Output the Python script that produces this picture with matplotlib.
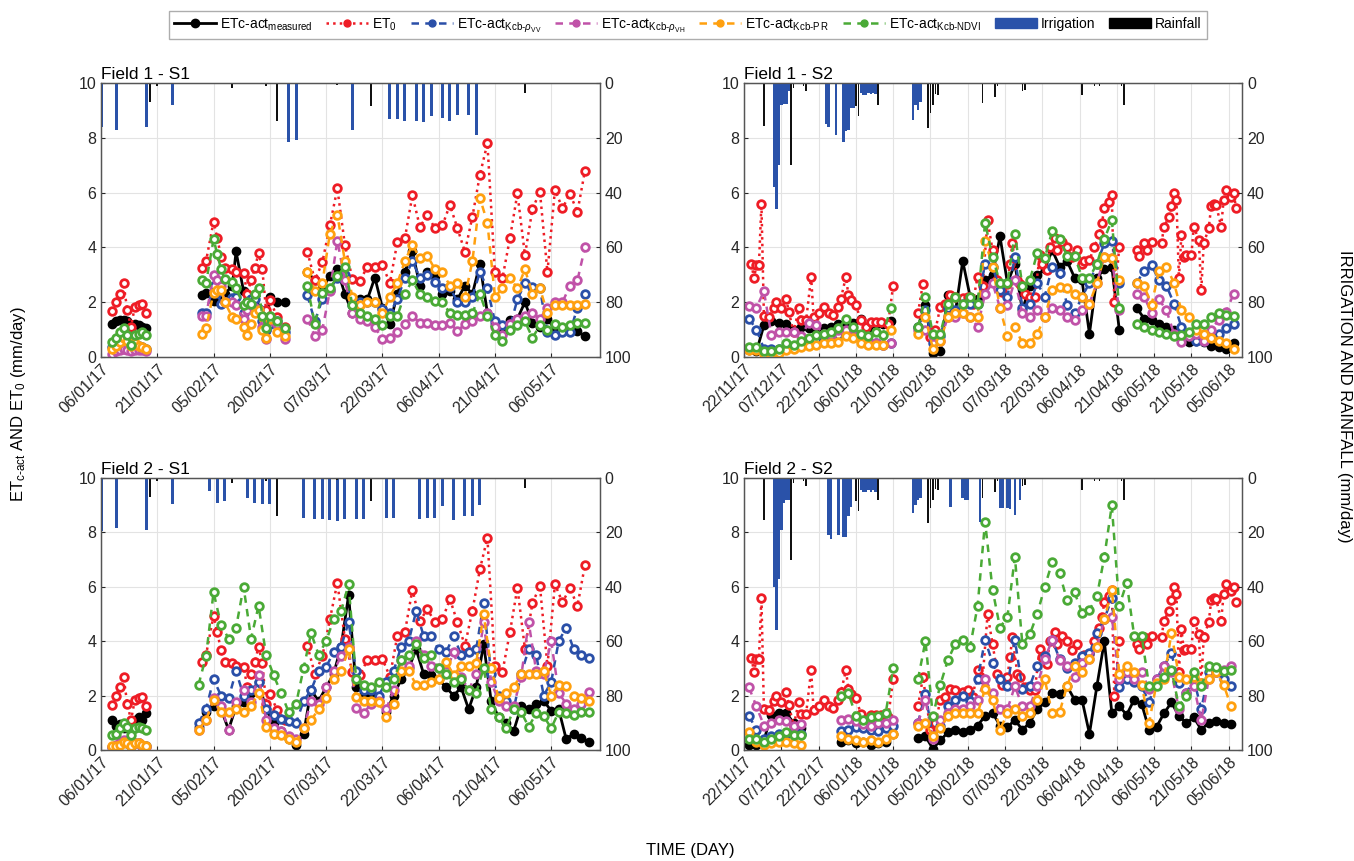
import numpy as np
import matplotlib
matplotlib.use('Agg')
import matplotlib.pyplot as plt
import matplotlib.dates as mdates
from matplotlib.lines import Line2D
from matplotlib.patches import Patch

plt.rcParams['font.family'] = ['Liberation Sans', 'DejaVu Sans']
plt.rcParams['mathtext.fontset'] = 'custom'
plt.rcParams['mathtext.rm'] = 'Liberation Sans'
plt.rcParams['mathtext.it'] = 'Liberation Sans:italic'
plt.rcParams['mathtext.bf'] = 'Liberation Sans:bold'

# ---------------- season 1 (day 0 = 06/01/2017) ----------------
base_s1 = '2017-01-06'
days_f1s1 = [3, 4, 5, 6, 7, 8, 9, 10, 11, 12,
             27, 28, 30, 31, 32, 33, 35, 36, 38, 39, 40, 41, 42, 43, 44, 45, 47, 49] + list(range(55, 130, 2))

et0_s1 = [1.67, 2.0, 2.3, 2.7, 1.7, 1.1, 1.83, 1.9, 1.95, 1.6,
          3.23, 3.5, 4.94, 4.33, 3.66, 3.23, 3.2, 3.1, 3.07, 2.3, 2.8, 3.23, 3.8, 3.2, 1.7, 2.07, 1.46, 1.1,
          3.84, 2.8, 3.45, 4.8, 6.15, 4.1, 2.85, 2.77, 3.3, 3.3, 3.35, 2.7, 4.2, 4.33, 5.9, 4.75, 5.18, 4.7, 4.8,
          5.55, 4.7, 3.84, 5.12, 6.65, 7.8, 3.1, 2.87, 4.33, 5.97, 3.72, 5.4, 6.03, 3.1, 6.1, 5.43, 5.95, 5.3, 6.8]

f1s1_meas = [1.2, 1.3, 1.35, 1.35, 1.3, 1.05, 1.2, 1.15, 1.1, 1.05,
             2.25, 2.35, 2.05, 2.05, 2.1, 2.3, 2.6, 3.85, 2.4, 2.05, 2.1, 1.85, 1.7, 1.5, 1.0, 2.2, 2.0, 2.0,
             3.1, 2.8, 2.5, 2.95, 3.2, 2.3, 1.6, 2.1, 2.1, 2.9, 1.8, 1.2, 2.3, 3.1, 3.85, 2.6, 3.1, 2.95, 2.3,
             2.4, 2.1, 2.6, 2.3, 3.4, 1.6, 1.2, 0.85, 1.35, 1.4, 2.0, 1.25, 1.1, 1.4, 1.0, 1.05, 1.0, 0.95, 0.75]
f1s1_vv = [0.35, 0.45, 0.5, 0.55, 0.5, 0.3, 0.4, 0.4, 0.35, 0.3,
           1.6, 1.6, 2.6, 2.35, 1.95, 2.0, 2.15, 2.2, 1.6, 1.85, 2.1, 2.1, 1.75, 1.3, 1.0, 1.2, 1.3, 0.9,
           2.25, 1.3, 2.1, 2.45, 2.9, 3.0, 1.9, 2.0, 2.0, 2.0, 1.75, 1.6, 2.1, 2.9, 3.5, 2.9, 3.0, 2.75, 2.5,
           2.55, 2.0, 2.0, 2.2, 3.1, 2.5, 1.3, 1.15, 1.1, 2.1, 2.7, 2.55, 2.5, 0.9, 0.8, 0.9, 0.9, 1.8, 2.3]
f1s1_vh = [0.1, 0.2, 0.25, 0.3, 0.25, 0.2, 0.25, 0.25, 0.25, 0.2,
           1.5, 1.5, 3.0, 2.8, 2.6, 2.0, 2.0, 1.9, 1.4, 1.7, 1.9, 1.8, 1.7, 1.1, 0.65, 1.3, 1.2, 0.65,
           1.4, 0.75, 1.0, 2.4, 4.25, 2.8, 1.6, 1.4, 1.3, 1.1, 0.65, 0.7, 0.9, 1.2, 1.5, 1.25, 1.25, 1.15, 1.15,
           1.25, 0.95, 1.2, 1.3, 1.5, 1.6, 1.1, 0.8, 1.2, 1.4, 1.5, 1.6, 1.4, 1.8, 2.0, 2.0, 2.6, 2.8, 4.0]
f1s1_pr = [0.3, 0.4, 0.55, 0.7, 0.6, 0.4, 0.5, 0.4, 0.35, 0.3,
           0.85, 1.05, 2.35, 2.45, 2.45, 2.0, 1.45, 1.4, 1.1, 0.8, 1.2, 1.6, 1.7, 1.0, 0.7, 1.4, 0.9, 0.75,
           3.1, 2.4, 2.7, 4.5, 5.2, 3.5, 2.2, 1.9, 2.0, 2.0, 1.6, 2.2, 2.7, 3.5, 4.1, 3.6, 3.7, 3.2, 3.1,
           2.6, 2.7, 2.2, 3.5, 5.8, 4.9, 2.2, 2.5, 2.9, 2.5, 3.2, 2.3, 2.5, 1.6, 1.9, 1.9, 1.9, 1.9, 1.95]
f1s1_ndvi = [0.55, 0.7, 0.9, 1.05, 0.8, 0.45, 0.8, 0.85, 0.9, 0.8,
             2.8, 2.7, 4.3, 3.75, 3.2, 2.85, 2.75, 2.5, 1.9, 2.0, 1.95, 2.3, 2.5, 1.5, 1.05, 1.5, 1.3, 1.05,
             2.6, 1.2, 2.35, 2.5, 2.95, 3.3, 1.9, 1.6, 1.5, 1.4, 1.15, 1.5, 1.5, 2.3, 2.8, 2.3, 2.2, 2.05, 2.0,
             1.6, 1.55, 1.55, 1.6, 2.3, 1.5, 0.8, 0.6, 1.0, 1.15, 1.3, 0.7, 1.15, 1.0, 1.2, 1.1, 1.15, 1.25, 1.25]

days_f2s1 = list(range(3, 13)) + list(range(26, 131, 2))
f2s1_meas = [1.1, 0.9, 0.95, 0.8, 0.9, 0.65, 1.1, 1.2, 1.1, 1.35,
             0.85, 1.4, 1.6, 1.5, 0.75, 1.6, 1.75, 2.1, 2.5, 1.5, 1.0, 0.7, 0.4, 0.2, 0.6,
             2.2, 1.8, 2.3, 2.8, 3.8, 5.7, 2.3, 2.1, 2.1, 1.8, 1.4, 2.0, 2.6, 3.0, 3.7,
             2.8, 2.75, 2.6, 2.3, 2.0, 2.3, 1.5, 2.3, 3.9, 1.8, 1.2, 1.0, 0.7, 1.6, 1.5,
             1.7, 1.8, 1.45, 1.5, 0.4, 0.6, 0.45, 0.3]
f2s1_vv = [0.1, 0.15, 0.25, 0.3, 0.25, 0.15, 0.25, 0.25, 0.15, 0.15,
           1.0, 1.5, 2.6, 2.0, 1.9, 2.9, 2.0, 2.2, 2.5, 1.5, 1.3, 1.15, 1.05, 1.0, 1.8,
           2.2, 2.9, 3.05, 3.6, 3.8, 4.7, 2.9, 2.2, 2.2, 2.0, 2.5, 2.9, 3.8, 4.0, 5.1,
           4.2, 4.2, 3.7, 3.6, 4.2, 3.5, 3.6, 3.7, 5.4, 2.8, 2.0, 1.8, 1.5, 2.8, 3.7,
           3.5, 2.0, 2.5, 4.0, 4.5, 3.7, 3.5, 3.4]
f2s1_vh = [0.1, 0.2, 0.3, 0.35, 0.3, 0.2, 0.25, 0.25, 0.15, 0.1,
           0.75, 1.1, 1.9, 1.6, 0.75, 1.75, 2.2, 1.75, 2.75, 1.1, 0.8, 0.7, 0.5, 0.4, 0.8,
           1.8, 1.7, 2.3, 2.9, 3.45, 3.8, 1.55, 1.35, 1.7, 1.8, 1.5, 2.2, 3.3, 3.1, 4.0,
           3.5, 3.1, 3.0, 2.9, 3.6, 2.7, 2.2, 2.8, 4.7, 2.5, 1.8, 1.6, 1.6, 2.7, 4.7,
           2.9, 2.8, 4.0, 2.1, 1.7, 1.5, 1.7, 2.15]
f2s1_pr = [0.15, 0.15, 0.2, 0.3, 0.25, 0.15, 0.25, 0.25, 0.2, 0.15,
           0.75, 1.1, 1.85, 1.4, 1.4, 1.5, 1.4, 1.6, 2.1, 0.85, 0.6, 0.55, 0.4, 0.3, 0.8,
           1.1, 1.5, 1.9, 2.6, 2.9, 3.7, 1.95, 1.8, 1.8, 1.75, 1.2, 1.7, 2.9, 2.9, 2.4,
           2.4, 2.5, 2.6, 3.25, 2.75, 3.1, 3.1, 3.2, 5.0, 3.0, 1.9, 2.1, 2.3, 2.8, 2.8,
           2.8, 2.9, 2.0, 2.4, 2.35, 2.0, 1.9, 1.8]
f2s1_ndvi = [0.55, 0.6, 0.8, 1.0, 0.85, 0.55, 0.8, 0.85, 0.8, 0.75,
             2.4, 3.45, 5.8, 4.6, 4.1, 4.5, 6.0, 4.1, 5.3, 3.5, 2.75, 2.1, 1.4, 1.7, 3.0,
             4.3, 3.5, 4.0, 4.8, 5.1, 6.1, 2.6, 2.4, 2.3, 2.5, 2.3, 2.6, 3.3, 3.5, 3.9,
             3.4, 3.5, 3.0, 2.8, 2.5, 2.6, 2.2, 2.1, 3.0, 1.5, 1.2, 0.8, 1.5, 1.4, 0.85,
             1.35, 1.25, 0.8, 1.4, 1.35, 1.3, 1.4, 1.4]

rain_s1_days = [9, 13, 15, 17, 22, 30, 35, 40, 44, 47, 53, 56, 58, 63, 70, 72, 113, 117, 130]
rain_s1 = [0.3, 7, 1, 0.5, 0.3, 0.4, 1.8, 0.3, 1.2, 14, 0.3, 0.3, 0.2, 0.6, 0.4, 8.3, 3.7, 0.3, 0.3]
irr_f1s1_days = [0, 4, 12, 19, 50, 52, 67, 77, 79, 81, 84, 86, 88, 91, 93, 95, 98, 100]
irr_f1s1 = [16, 17.3, 16.1, 7.9, 21.6, 20.7, 17, 13, 13, 13.7, 13.9, 14.4, 12.2, 12.9, 13.8, 11.6, 11.6, 18.9]
irr_f2s1_days = [0, 4, 12, 19, 29, 31, 33, 39, 41, 43, 45, 54, 57, 59, 61, 63, 65, 68, 70, 76, 78,
                 85, 87, 89, 91, 94, 97, 99, 101]
irr_f2s1 = [19.5, 18.5, 19.1, 9.6, 4.9, 9.3, 8.6, 7.4, 9.3, 9.6, 9.6, 14.8, 15.1, 15.1, 15.6, 15.8, 15.1,
            15.1, 15.1, 14.6, 14.6, 15.1, 14.6, 14.6, 10.2, 15.4, 14, 14, 10.1]

# ---------------- season 2 (day 0 = 22/11/2017) ----------------
base_s2 = '2017-11-22'
et0_s2_days = [3, 4, 5, 6, 7, 8, 10, 12, 13, 15, 17, 18, 20, 22, 23, 25, 27, 28, 30, 32, 34, 36, 38, 39, 41,
               42, 43, 45, 47, 49, 51, 53, 55, 58, 60,
               70, 72, 75, 77, 79, 81, 83, 85, 88, 90, 92, 94, 96, 98, 100, 102, 104, 106, 107, 108, 110, 111,
               113, 115, 117, 119, 120, 122, 123, 125, 126, 128, 130, 132, 134, 136, 137, 139, 141, 143, 144,
               145, 147, 148, 149, 151,
               158, 159, 161, 162, 164, 168, 169, 171, 172, 173, 174, 175, 176, 177, 178, 180, 181, 183, 184,
               185, 187, 188, 189, 190, 192, 193, 194, 196, 197, 198]
et0_s2 = [3.4, 2.87, 3.35, 3.35, 5.6, 1.5, 1.46, 1.8, 2.0, 1.77, 2.13, 1.65, 0.9, 1.77, 1.34, 1.34, 2.93, 1.46,
          1.6, 1.83, 1.6, 1.55, 1.83, 2.13, 2.93, 2.26, 2.07, 1.9, 1.34, 1.1, 1.28, 1.28, 1.28, 1.2, 2.6,
          1.6, 2.68, 0.73, 0.98, 1.83, 1.95, 2.26, 2.2, 2.15, 2.2, 1.95, 2.93, 2.6, 5.0, 3.9, 2.8, 2.38, 2.68,
          3.41, 4.15, 2.8, 2.68, 2.3, 2.2, 2.2, 3.72, 3.41, 3.17, 4.0, 4.33, 3.9, 4.2, 4.02, 3.66, 3.9, 3.41,
          3.5, 3.54, 4.02, 4.5, 4.88, 5.43, 5.67, 5.9, 2.0, 4.0,
          3.9, 3.7, 4.15, 3.9, 4.2, 4.15, 4.75, 5.12, 5.5, 6.0, 5.73, 2.87, 4.45, 3.66, 3.72, 3.72, 4.75, 4.27,
          2.44, 4.15, 4.7, 5.5, 5.6, 5.55, 4.75, 5.73, 6.1, 5.85, 6.0, 5.43]

days_f1s2 = list(range(2, 60, 3)) + list(range(70, 152, 3)) + list(range(158, 198, 3))
f1s2_meas = [0.25, 0.2, 1.15, 1.3, 1.25, 1.2, 1.0, 1.1, 1.05, 0.95, 1.05, 1.1, 1.2, 1.15, 1.25, 1.4, 1.05, 1.2, 1.2, 1.3,
             1.1, 1.9, 0.15, 0.2, 2.25, 1.6, 3.5, 2.2, 2.1, 2.8, 3.0, 4.4, 2.7, 3.4, 1.7, 2.6, 3.0, 3.2, 3.9, 3.3,
             3.5, 2.9, 2.8, 0.85, 2.9, 3.2, 3.3, 1.0,
             1.8, 1.4, 1.35, 1.2, 1.1, 1.0, 0.7, 0.55, 0.6, 0.55, 0.4, 0.35, 0.3, 0.5]
f1s2_vv = [1.4, 1.0, 0.3, 0.3, 0.3, 0.35, 0.4, 0.5, 0.55, 0.6, 0.7, 0.75, 0.8, 0.9, 0.8, 0.65, 0.55, 0.5, 0.45, 0.5,
           1.1, 1.7, 0.5, 0.75, 1.8, 1.7, 1.95, 1.95, 1.95, 3.4, 3.3, 2.45, 2.2, 3.66, 1.8, 1.95, 2.7, 2.2, 3.3, 3.05,
           1.9, 1.6, 2.2, 2.7, 3.4, 4.15, 4.25, 2.7,
           2.7, 3.15, 3.35, 2.8, 2.6, 1.95, 1.1, 0.8, 0.6, 0.6, 0.75, 0.85, 1.05, 1.2]
f1s2_vh = [1.85, 1.8, 2.4, 0.8, 0.9, 0.9, 0.9, 0.75, 1.25, 1.15, 0.85, 0.8, 1.0, 1.0, 0.75, 0.75, 0.5, 0.5, 0.45, 0.5,
           1.0, 1.0, 0.75, 0.6, 1.45, 1.45, 1.6, 1.45, 1.1, 2.3, 2.7, 1.8, 1.9, 2.8, 1.6, 1.45, 1.7, 1.45, 1.8, 1.7,
           1.45, 1.35, 1.7, 1.95, 2.7, 3.66, 3.6, 1.7,
           2.3, 2.2, 1.6, 2.1, 1.7, 0.85, 0.55, 0.75, 0.85, 0.6, 1.0, 1.35, 1.65, 2.3]
f1s2_pr = [0.25, 0.25, 0.1, 0.1, 0.15, 0.25, 0.3, 0.35, 0.4, 0.45, 0.5, 0.5, 0.55, 0.75, 0.7, 0.5, 0.45, 0.45, 0.45, 1.0,
           0.85, 1.45, 0.3, 0.6, 1.45, 1.6, 1.6, 1.45, 1.45, 4.25, 3.3, 1.8, 0.75, 1.1, 0.5, 0.5, 0.85, 1.45, 2.45, 2.55,
           2.5, 2.3, 2.2, 1.95, 2.7, 3.66, 3.6, 2.8,
           2.7, 2.6, 1.9, 3.15, 3.3, 2.7, 1.7, 1.45, 1.0, 0.85, 0.7, 0.6, 0.5, 0.3]
f1s2_ndvi = [0.35, 0.35, 0.2, 0.2, 0.3, 0.5, 0.45, 0.6, 0.7, 0.8, 0.85, 0.9, 1.05, 1.4, 1.1, 0.85, 0.75, 0.9, 0.8, 1.8,
             1.1, 2.2, 0.85, 0.85, 1.95, 2.2, 1.95, 2.2, 1.95, 4.9, 3.66, 2.7, 2.7, 4.5, 2.6, 2.8, 3.8, 3.6, 4.6, 4.3,
             3.7, 3.7, 2.9, 2.9, 3.4, 4.3, 5.0, 1.8,
             1.2, 1.1, 1.0, 0.9, 0.85, 0.75, 0.8, 0.9, 1.2, 1.2, 1.45, 1.6, 1.55, 1.5]

days_f2s2 = list(range(2, 24, 3)) + list(range(39, 61, 3)) + list(range(70, 197, 3))
f2s2_meas = [0.2, 0.2, 0.35, 1.3, 1.35, 1.35, 1.0, 0.8,
             0.3, 0.35, 0.25, 0.3, 0.2, 0.25, 0.3, 0.6,
             0.45, 0.5, 0.05, 0.35, 0.65, 0.75, 0.65, 0.75, 0.9, 1.25, 1.37, 0.9, 0.85, 1.1, 0.75,
             1.0, 1.5, 1.75, 2.1, 2.05, 2.35, 1.85, 1.85, 0.6, 2.35, 4.0, 1.37, 1.6, 1.3, 1.85,
             1.7, 0.75, 0.85, 1.35, 1.75, 1.25, 1.0, 1.2, 0.75, 1.0, 1.05, 1.0, 0.95]
f2s2_vv = [1.25, 0.75, 0.4, 0.5, 0.6, 0.6, 0.75, 0.6,
           0.7, 0.75, 0.85, 0.8, 0.75, 0.7, 0.8, 0.9,
           1.0, 2.05, 0.5, 0.9, 1.6, 1.85, 2.0, 1.8, 2.6, 4.05, 3.2, 2.6, 2.35, 4.05, 2.25,
           2.35, 3.1, 3.45, 4.05, 3.35, 3.0, 3.2, 3.45, 3.55, 4.3, 4.8, 5.6, 2.3, 2.6, 2.5,
           2.35, 1.75, 2.6, 3.1, 3.55, 2.45, 2.1, 2.6, 1.5, 2.85, 2.85, 2.6, 2.35]
f2s2_vh = [2.3, 1.6, 0.9, 1.0, 1.1, 1.05, 0.9, 0.95,
           1.1, 1.15, 1.05, 0.95, 0.9, 1.0, 1.0, 1.1,
           1.0, 1.85, 0.4, 1.1, 1.35, 1.5, 1.5, 1.6, 1.85, 2.6, 2.1, 1.5, 1.5, 2.35, 1.6,
           1.6, 2.35, 3.35, 4.05, 3.3, 3.1, 2.7, 3.2, 3.35, 3.8, 4.8, 4.9, 2.6, 2.85, 2.6,
           2.85, 2.25, 2.6, 3.1, 2.85, 1.5, 2.1, 2.35, 1.1, 2.6, 2.85, 2.95, 3.1]
f2s2_pr = [0.65, 0.3, 0.2, 0.25, 0.3, 0.3, 0.25, 0.2,
           0.5, 0.4, 0.35, 0.3, 0.35, 0.3, 0.4, 0.6,
           0.9, 1.0, 0.5, 0.8, 1.25, 1.35, 1.35, 1.35, 1.35, 2.25, 1.85, 0.75, 1.35, 1.5, 1.25,
           1.35, 1.85, 2.6, 1.35, 1.4, 2.35, 3.1, 2.85, 3.35, 3.8, 4.8, 5.9, 2.8, 3.1, 2.85,
           2.4, 1.0, 2.45, 2.6, 4.3, 2.7, 2.6, 2.7, 2.45, 2.6, 2.85, 2.4, 1.6]
f2s2_ndvi = [0.4, 0.4, 0.3, 0.4, 0.5, 0.65, 0.55, 0.55,
             2.0, 2.1, 1.25, 1.1, 1.2, 1.25, 1.35, 3.0,
             2.6, 4.0, 1.25, 2.4, 3.3, 3.9, 4.05, 3.8, 5.3, 8.4, 5.9, 4.5, 4.9, 7.1, 3.9,
             4.25, 5.0, 6.0, 6.9, 6.5, 5.5, 5.8, 5.05, 5.15, 5.65, 7.1, 9.0, 5.3, 6.15, 4.2,
             4.2, 2.35, 2.35, 2.7, 2.95, 1.6, 2.0, 2.85, 2.35, 3.1, 3.05, 2.9, 2.95]

rain_s2_days = [3, 8, 19, 20, 22, 24, 25, 27, 40, 45, 46, 54, 56, 60, 64, 74, 75, 76, 77, 78,
                80, 84, 90, 96, 101, 102, 112, 113, 123, 136, 137, 141, 143, 147, 152, 153, 160, 170, 185, 194]
rain_s2 = [0.5, 15.6, 30, 1.8, 0.5, 1, 3, 0.3, 0.5, 8.5, 12, 8, 0.3, 0.5, 0.3, 16.5, 11, 8, 4, 4.3,
           0.4, 0.3, 0.3, 7.3, 5, 1.2, 3, 2.5, 0.3, 4.5, 0.5, 1, 1, 0.5, 1, 8.2, 0.3, 0.3, 0.2, 0.3]
irr_f1s2_days = [12, 13, 14, 15, 16, 17, 18, 33, 34, 37, 40, 41, 42, 43, 44, 47, 48, 49, 50, 51, 52, 53,
                 68, 69, 70, 71]
irr_f1s2 = [38, 46, 30, 8, 7.5, 7.5, 3, 15, 16, 19, 21.5, 17.5, 17, 9, 9, 3.5, 4.5, 4.5, 3.5, 4, 3.5, 4,
            13.5, 8, 10, 7]
irr_f2s2_days = [12, 13, 14, 15, 16, 17, 18, 34, 35, 38, 40, 41, 42, 43, 45, 47, 48, 49, 50, 51, 52, 53,
                 68, 69, 70, 71, 83, 88, 89, 90, 95, 103, 104, 106, 107, 109, 111]
irr_f2s2 = [40, 56, 37, 19, 9, 8, 8, 21, 22.5, 21, 21.5, 21.5, 14, 10.5, 6.7, 4.5, 5, 5, 4.5, 5, 4.5, 5,
            13, 10, 8, 7.5, 10.5, 7.3, 8, 8, 16, 11, 11, 11, 11.5, 13.5, 8]

names = [r'ETc-act$_{\mathrm{measured}}$', r'ET$_{\mathrm{0}}$',
         r'ETc-act$_{\mathrm{Kcb‐}\rho_{\mathrm{VV}}}$', r'ETc-act$_{\mathrm{Kcb‐}\rho_{\mathrm{VH}}}$',
         r'ETc-act$_{\mathrm{Kcb‐P\,R}}$', r'ETc-act$_{\mathrm{Kcb‐NDVI}}$']
colors = ['black', '#ee1c25', '#2a4fa8', '#c052a8', '#ffa00f', '#4aaa36']
irr_color = '#2a52a9'


def to_x(base, days):
    return mdates.date2num(np.datetime64(base)) + np.asarray(days, float)


def gapped(days, vals):
    d = np.asarray(days, float)
    v = np.asarray(vals, float)
    brk = np.where(np.diff(d) > 5)[0] + 1
    return np.insert(d, brk, d[brk] - 1), np.insert(v, brk, np.nan)


def line(ax, base, days, vals, k):
    d, v = gapped(days, vals)
    c = colors[k]
    if k == 0:
        ax.plot(to_x(base, d), v, color=c, lw=2.0, marker='o', ms=6, mfc=c, mec=c, zorder=3)
    elif k == 1:
        ax.plot(to_x(base, d), v, color=c, lw=1.8, ls=':', marker='o', ms=5.5, mfc='white', mec=c, mew=2,
                zorder=3)
    else:
        ax.plot(to_x(base, d), v, color=c, lw=1.8, dashes=(3, 2.5), marker='o', ms=5.5, mfc='white',
                mec=c, mew=2, zorder=3)


def panel(ax, title, base, span, nticks, days, series, et0_days, et0, irr_days, irr, rain_days, rain, bw):
    line(ax, base, days, series[0], 0)
    line(ax, base, et0_days, et0, 1)
    for k in range(1, 5):
        line(ax, base, days, series[k], k + 1)
    ax.set_ylim(0, 10)
    ax.set_yticks(range(0, 11, 2))
    ax.set_xlim(to_x(base, [0, span]))
    ax.set_xticks(to_x(base, np.arange(nticks) * 15))
    ax.xaxis.set_major_formatter(mdates.DateFormatter('%d/%m/%y'))
    plt.setp(ax.get_xticklabels(), rotation=45, ha='right', rotation_mode='anchor')
    ax.grid(True, color='#e3e3e3', lw=0.8)
    ax.set_axisbelow(True)
    ax.tick_params(direction='in', labelsize=11.5, colors='#262626', length=3)
    ax.set_title(title, loc='left', fontsize=12.5, pad=3)

    ax2 = ax.twinx()
    ax2.bar(to_x(base, irr_days), irr, width=bw, color=irr_color, align='center')
    ax2.bar(to_x(base, rain_days), rain, width=bw * 0.6, color='#111111', align='center')
    ax2.set_ylim(100, 0)
    ax2.set_yticks(range(0, 101, 20))
    ax2.tick_params(direction='in', labelsize=11.5, colors='#262626', length=3)
    for a in (ax, ax2):
        for s in a.spines.values():
            s.set_color('#555555')
            s.set_linewidth(0.9)


fig = plt.figure(figsize=(13.54, 8.61), dpi=100)
ax_tl = fig.add_axes([0.0746, 0.5854, 0.3685, 0.3182])
ax_tr = fig.add_axes([0.5495, 0.5854, 0.3678, 0.3182])
ax_bl = fig.add_axes([0.0746, 0.1289, 0.3685, 0.3159])
ax_br = fig.add_axes([0.5495, 0.1289, 0.3678, 0.3159])

panel(ax_tl, 'Field 1 - S1', base_s1, 133, 9, days_f1s1,
      [f1s1_meas, f1s1_vv, f1s1_vh, f1s1_pr, f1s1_ndvi], days_f1s1, et0_s1,
      irr_f1s1_days, irr_f1s1, rain_s1_days, rain_s1, 0.8)
panel(ax_bl, 'Field 2 - S1', base_s1, 133, 9, days_f2s1,
      [f2s1_meas, f2s1_vv, f2s1_vh, f2s1_pr, f2s1_ndvi], days_f1s1, et0_s1,
      irr_f2s1_days, irr_f2s1, rain_s1_days, rain_s1, 0.8)
panel(ax_tr, 'Field 1 - S2', base_s2, 200.4, 14, days_f1s2,
      [f1s2_meas, f1s2_vv, f1s2_vh, f1s2_pr, f1s2_ndvi], et0_s2_days, et0_s2,
      irr_f1s2_days, irr_f1s2, rain_s2_days, rain_s2, 1.0)
panel(ax_br, 'Field 2 - S2', base_s2, 200.4, 14, days_f2s2,
      [f2s2_meas, f2s2_vv, f2s2_vh, f2s2_pr, f2s2_ndvi], et0_s2_days, et0_s2,
      irr_f2s2_days, irr_f2s2, rain_s2_days, rain_s2, 1.0)

handles = [Line2D([], [], color='black', lw=2.0, marker='o', ms=6),
           Line2D([], [], color=colors[1], lw=1.8, ls=':', marker='o', ms=5)]
for c in colors[2:]:
    handles.append(Line2D([], [], color=c, lw=1.8, dashes=(3, 2.5), marker='o', ms=5))
handles += [Patch(color=irr_color), Patch(color='black')]
fig.legend(handles, names + ['Irrigation', 'Rainfall'], loc='upper center', bbox_to_anchor=(0.508, 0.995),
           ncol=8, fontsize=10, handlelength=3, columnspacing=1.0, handletextpad=0.3, frameon=True,
           fancybox=False, edgecolor='#999999', borderpad=0.35)

fig.text(0.014, 0.53, r'ET$_{\mathrm{c‐act}}$ AND ET$_0$ (mm/day)', rotation=90, va='center', ha='center',
         fontsize=12)
fig.text(0.993, 0.54, 'IRRIGATION AND RAINFALL (mm/day)', rotation=270, va='center', ha='center', fontsize=12)
fig.text(0.51, 0.012, 'TIME (DAY)', ha='center', va='center', fontsize=12)

fig.savefig('out.png', dpi=100)
